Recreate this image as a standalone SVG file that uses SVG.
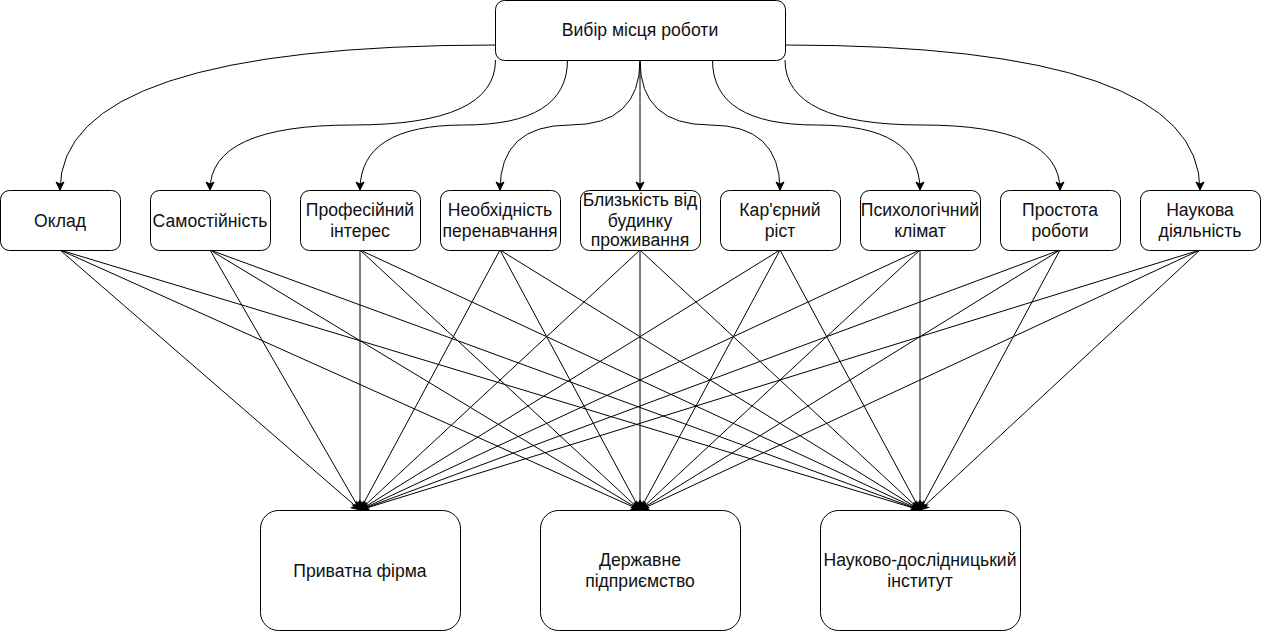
<svg xmlns="http://www.w3.org/2000/svg" width="1261" height="632" viewBox="0 0 1261 632">
<style>
.box{fill:#fff;stroke:#000;stroke-width:1}
.t{font-family:"Liberation Sans",Arial,sans-serif;font-size:17.6px;fill:#111;text-anchor:middle}
.c{fill:none;stroke:#000;stroke-width:1;marker-end:url(#arr)}
</style>
<defs>
<marker id="arr" viewBox="-10 -5 11 10" refX="0" refY="0" markerWidth="11" markerHeight="10" orient="auto" markerUnits="userSpaceOnUse">
<path d="M0,0 L-8,-4 L-6,0 L-8,4 Z" fill="#000" stroke="#000" stroke-width="1"/>
</marker>
</defs>
<rect width="1261" height="632" fill="#fff"/>
<g id="connectors">
<path class="c" d="M495.5,45 Q60,45 60,190"/>
<path class="c" d="M495.5,60 Q495.5,125 352.75,125 Q210,125 210,190"/>
<path class="c" d="M567.5,60 Q567.5,125 463.75,125 Q360,125 360,190"/>
<path class="c" d="M640,60 Q640,125 570,125 Q500,125 500,190"/>
<path class="c" d="M640,60 L640,190"/>
<path class="c" d="M640,60 Q640,125 710,125 Q780,125 780,190"/>
<path class="c" d="M712.5,60 Q712.5,125 816.25,125 Q920,125 920,190"/>
<path class="c" d="M785,60 Q785,125 922.5,125 Q1060,125 1060,190"/>
<path class="c" d="M785,45 Q1200,45 1200,190"/>
<path class="c" d="M60,250 L360,510"/><path class="c" d="M60,250 L640,510"/><path class="c" d="M60,250 L920,510"/>
<path class="c" d="M210,250 L360,510"/><path class="c" d="M210,250 L640,510"/><path class="c" d="M210,250 L920,510"/>
<path class="c" d="M360,250 L360,510"/><path class="c" d="M360,250 L640,510"/><path class="c" d="M360,250 L920,510"/>
<path class="c" d="M500,250 L360,510"/><path class="c" d="M500,250 L640,510"/><path class="c" d="M500,250 L920,510"/>
<path class="c" d="M640,250 L360,510"/><path class="c" d="M640,250 L640,510"/><path class="c" d="M640,250 L920,510"/>
<path class="c" d="M780,250 L360,510"/><path class="c" d="M780,250 L640,510"/><path class="c" d="M780,250 L920,510"/>
<path class="c" d="M920,250 L360,510"/><path class="c" d="M920,250 L640,510"/><path class="c" d="M920,250 L920,510"/>
<path class="c" d="M1060,250 L360,510"/><path class="c" d="M1060,250 L640,510"/><path class="c" d="M1060,250 L920,510"/>
<path class="c" d="M1200,250 L360,510"/><path class="c" d="M1200,250 L640,510"/><path class="c" d="M1200,250 L920,510"/>
</g>
<g id="top">
<rect class="box" x="495.5" y="0.5" width="290" height="60" rx="9"/>
<text class="t" x="640" y="36">Вибір місця роботи</text>
</g>
<g id="oklad">
<rect class="box" x="0.5" y="190.5" width="120" height="60" rx="9"/>
<text class="t" x="60" y="226.5">Оклад</text>
</g>
<g id="samostiinist">
<rect class="box" x="150.5" y="190.5" width="120" height="60" rx="9"/>
<text class="t" x="210" y="226.5">Самостійність</text>
</g>
<g id="profinteres">
<rect class="box" x="300.5" y="190.5" width="120" height="60" rx="9"/>
<text class="t" x="360" y="216">Професійний</text>
<text class="t" x="360" y="237">інтерес</text>
</g>
<g id="perenavchannia">
<rect class="box" x="440.5" y="190.5" width="120" height="60" rx="9"/>
<text class="t" x="500" y="216">Необхідність</text>
<text class="t" x="500" y="237">перенавчання</text>
</g>
<g id="blyzkist">
<rect class="box" x="580.5" y="190.5" width="120" height="60" rx="9"/>
<text class="t" x="640" y="206">Близькість від</text>
<text class="t" x="640" y="226.5">будинку</text>
<text class="t" x="640" y="246">проживання</text>
</g>
<g id="kariera">
<rect class="box" x="720.5" y="190.5" width="120" height="60" rx="9"/>
<text class="t" x="780" y="216">Кар'єрний</text>
<text class="t" x="780" y="237">ріст</text>
</g>
<g id="psykhklimat">
<rect class="box" x="860.5" y="190.5" width="120" height="60" rx="9"/>
<text class="t" x="920" y="216">Психологічний</text>
<text class="t" x="920" y="237">клімат</text>
</g>
<g id="prostota">
<rect class="box" x="1000.5" y="190.5" width="120" height="60" rx="9"/>
<text class="t" x="1060" y="216">Простота</text>
<text class="t" x="1060" y="237">роботи</text>
</g>
<g id="naukova">
<rect class="box" x="1140.5" y="190.5" width="120" height="60" rx="9"/>
<text class="t" x="1200" y="216">Наукова</text>
<text class="t" x="1200" y="237">діяльність</text>
</g>
<g id="pryvatna">
<rect class="box" x="260.5" y="510.5" width="200" height="120" rx="18"/>
<text class="t" x="360" y="576.5">Приватна фірма</text>
</g>
<g id="derzhavne">
<rect class="box" x="540.5" y="510.5" width="200" height="120" rx="18"/>
<text class="t" x="640" y="566">Державне</text>
<text class="t" x="640" y="587">підприємство</text>
</g>
<g id="naukovo">
<rect class="box" x="820.5" y="510.5" width="200" height="120" rx="18"/>
<text class="t" x="920" y="566">Науково-дослідницький</text>
<text class="t" x="920" y="587">інститут</text>
</g>
</svg>
